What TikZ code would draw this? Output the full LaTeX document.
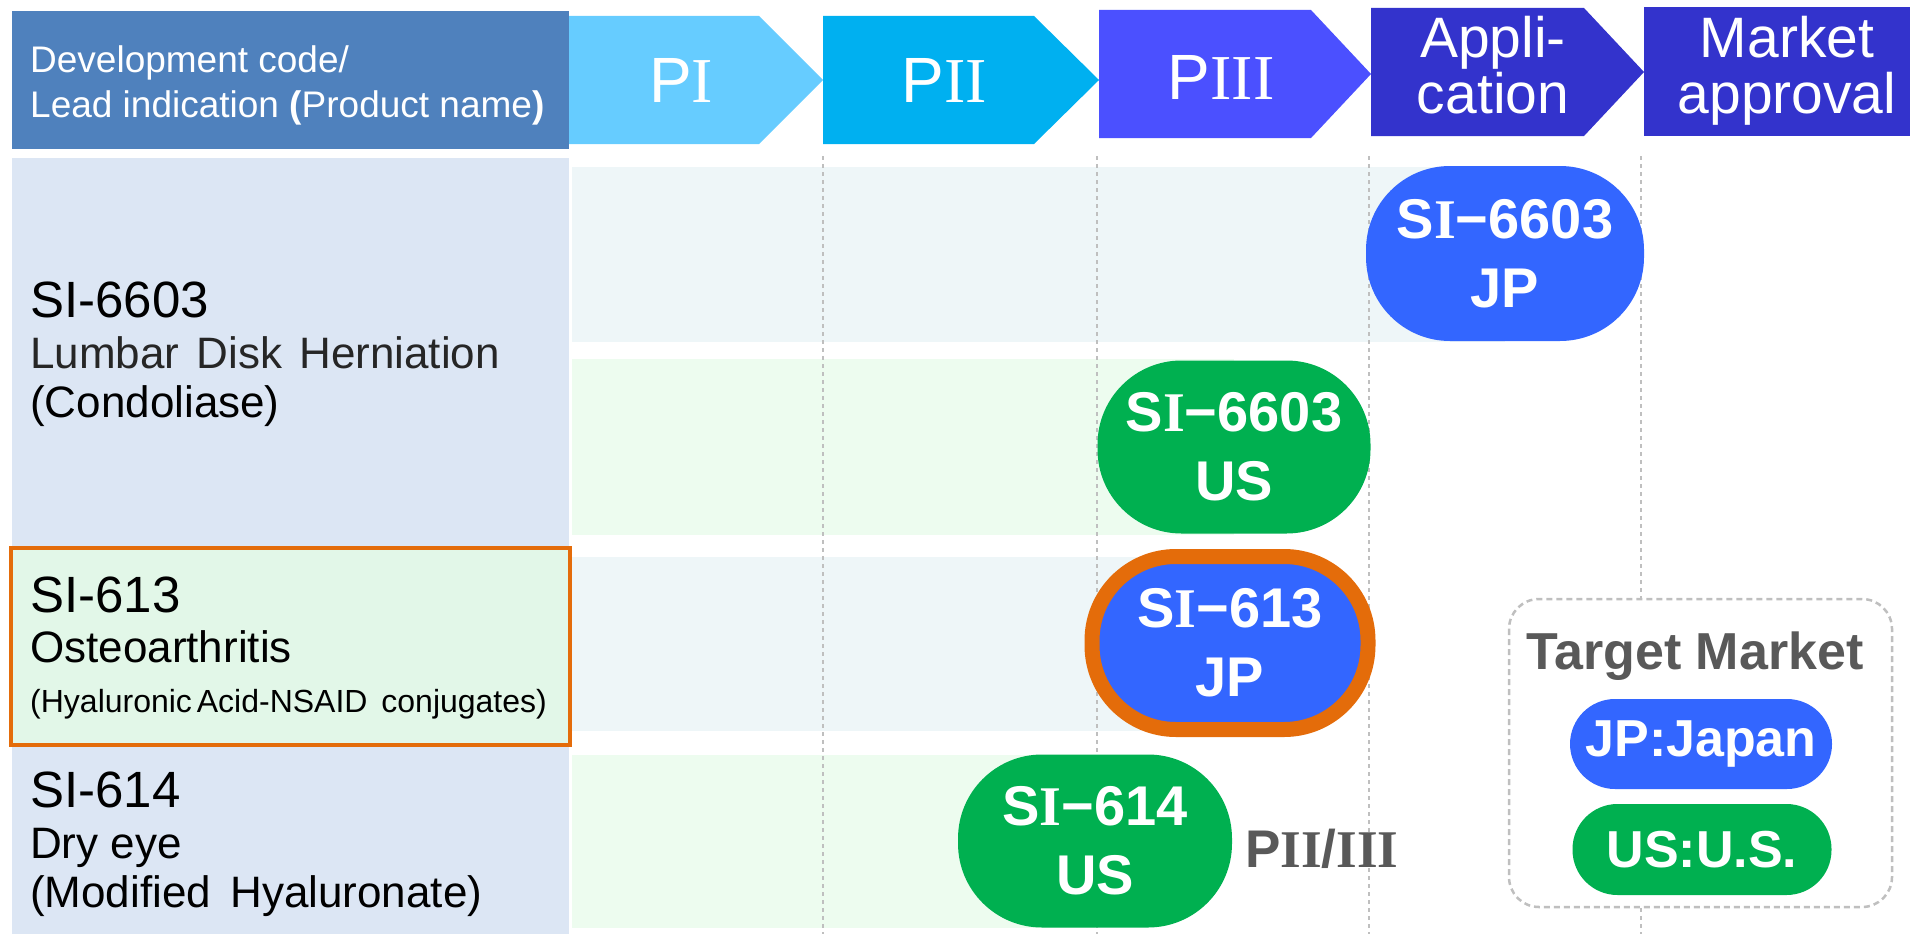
\documentclass[tikz,border=0pt]{standalone}
\usepackage{fontspec}
\setmainfont{Liberation Sans}
\newfontfamily\numfont{Liberation Serif}
\newcommand\RN[1]{{\numfont #1}}
\newcommand\fsz[2]{\fontsize{#1}{#2}\selectfont}
\newcommand\wsp[1]{\hspace{#1pt}}

\definecolor{hdrblue}{HTML}{4F81BD}
\definecolor{phaseI}{HTML}{66CCFF}
\definecolor{phaseII}{HTML}{00B0F0}
\definecolor{phaseIII}{HTML}{4B50FF}
\definecolor{phaseApp}{HTML}{3333CC}
\definecolor{colblue}{HTML}{DCE6F4}
\definecolor{hiorange}{HTML}{E46C0A}
\definecolor{higreen}{HTML}{E2F7E8}
\definecolor{bandblue}{HTML}{EEF6F8}
\definecolor{bandgreen}{HTML}{EDFCEF}
\definecolor{jpblue}{HTML}{3366FF}
\definecolor{usgreen}{HTML}{00B050}
\definecolor{darkgray}{HTML}{595959}
\definecolor{gridgray}{HTML}{BFBFBF}
\definecolor{subtext}{HTML}{262626}

\begin{document}
\begin{tikzpicture}[x=1pt,y=-1pt,
  hdtext/.style={text=white, inner sep=0pt, anchor=base},
  lefttext/.style={inner sep=0pt, anchor=base west},
  codetext/.style={lefttext, font=\fsz{51}{51}},
  indtext/.style={lefttext, font=\fsz{44}{44}},
  bubble/.style={rounded corners=84pt, text=white, align=center, inner sep=0pt,
    font=\fsz{56}{69}\bfseries},
  pill/.style={rounded corners=45pt, text=white, inner sep=0pt,
    font=\fsz{52}{52}\bfseries},
  gridline/.style={gridgray, line width=2.5pt, dash pattern=on 4pt off 4pt},
]
\useasboundingbox (0,0) rectangle (1910,934);

% ---- header: column title and phase chevrons ----
\fill[hdrblue] (12,11) rectangle (569,149);
\node[hdtext, anchor=base west, font=\fsz{37}{37}] (hdA) at (30,72) {Development code/};
\node[hdtext, anchor=base west, font=\fsz{37}{37}] (hdB) at (30,117)
  {Lead indication {\bfseries(}Product name{\bfseries)}};

\fill[phaseI]   (569,16) -- (759,16) -- (823,80) -- (759,144) -- (569,144) -- cycle;
\fill[phaseII]  (823,16) -- (1034,16) -- (1099,80) -- (1034,144) -- (823,144) -- cycle;
\fill[phaseIII] (1099,10) -- (1311,10) -- (1371,74) -- (1311,138) -- (1099,138) -- cycle;
\fill[phaseApp] (1371,8) -- (1584,8) -- (1644,72) -- (1584,136) -- (1371,136) -- cycle;
\fill[phaseApp] (1644,7) rectangle (1910,136);

\node[hdtext, font=\fsz{64}{64}] (pI)   at (681,102)  {P\RN{I}};
\node[hdtext, font=\fsz{64}{64}] (pII)  at (944,102)  {P\RN{II}};
\node[hdtext, font=\fsz{64}{64}] (pIII) at (1221,99)  {P\RN{III}};
\node[hdtext, font=\fsz{57}{57}] (appA) at (1493,57)  {Appli-};
\node[hdtext, font=\fsz{57}{57}] (appB) at (1493,113) {cation};
\node[hdtext, font=\fsz{57}{57}] (mkA)  at (1787,57)  {Market};
\node[hdtext, font=\fsz{57}{57}] (mkB)  at (1787,113) {approval};

% ---- left column ----
\fill[colblue] (12,158) rectangle (569,934);
\draw[hiorange, line width=4pt, fill=higreen] (11,548) rectangle (570,745);

\node[codetext] (c1) at (30,317) {SI-6603};
\node[indtext, text=subtext] (c1a) at (30,368) {Lumbar\wsp{5} Disk\wsp{5} Herniation};
\node[indtext] (c1b) at (30,417) {(Condoliase)};

\node[codetext] (c2) at (30,612) {SI-613};
\node[indtext] (c2a) at (30,662) {Osteoarthritis};
\node[lefttext, font=\fsz{32}{32}] (c2b) at (30,712)
  {(Hyaluronic\wsp{-4} Acid-NSAID\wsp{5} conjugates)};

\node[codetext] (c3) at (30,807) {SI-614};
\node[indtext] (c3a) at (30,858) {Dry eye};
\node[indtext] (c3b) at (30,907) {(Modified\wsp{7} Hyaluronate)};

% ---- progress bands ----
\fill[bandblue]  (572,167) rectangle (1505,342);
\fill[bandgreen] (572,359) rectangle (1234,535);
\fill[bandblue]  (572,557) rectangle (1230,731);
\fill[bandgreen] (572,755) rectangle (1095,928);

% ---- phase boundaries ----
\foreach \gx in {823,1097,1369,1641}
  \draw[gridline] (\gx,156) -- (\gx,934);

% ---- legend ----
\draw[gridline, dash pattern=on 6pt off 4pt, fill=white, rounded corners=30pt]
  (1509,599) rectangle (1892,907);
\node[inner sep=0pt, anchor=base, text=darkgray, font=\fsz{52}{52}\bfseries]
  (lgT) at (1695,669) {Target Market};
\node[pill, fill=jpblue, minimum width=262pt, minimum height=90pt]
  (lgJP) at (1701,744) {JP:Japan};
\node[pill, fill=usgreen, minimum width=259pt, minimum height=91pt]
  (lgUS) at (1702,849.5) {US:U.S.};

% ---- program bubbles ----
\node[bubble, fill=jpblue, minimum width=278pt, minimum height=175pt]
  (b1) at (1505,253.5) {S\RN{I}\textminus6603\\JP};
\node[bubble, fill=usgreen, minimum width=273pt, minimum height=173pt]
  (b2) at (1234,447) {S\RN{I}\textminus6603\\US};
\node[bubble, fill=jpblue, draw=hiorange, line width=15pt,
      minimum width=276pt, minimum height=173pt]
  (b3) at (1230,643) {S\RN{I}\textminus613\\JP};
\node[bubble, fill=usgreen, minimum width=274pt, minimum height=173pt]
  (b4) at (1095,841) {S\RN{I}\textminus614\\US};

\node[inner sep=0pt, anchor=base west, text=darkgray, font=\fsz{53}{53}\bfseries]
  (b4ph) at (1245,867) {P\RN{II}/\RN{III}};
\end{tikzpicture}
\end{document}
